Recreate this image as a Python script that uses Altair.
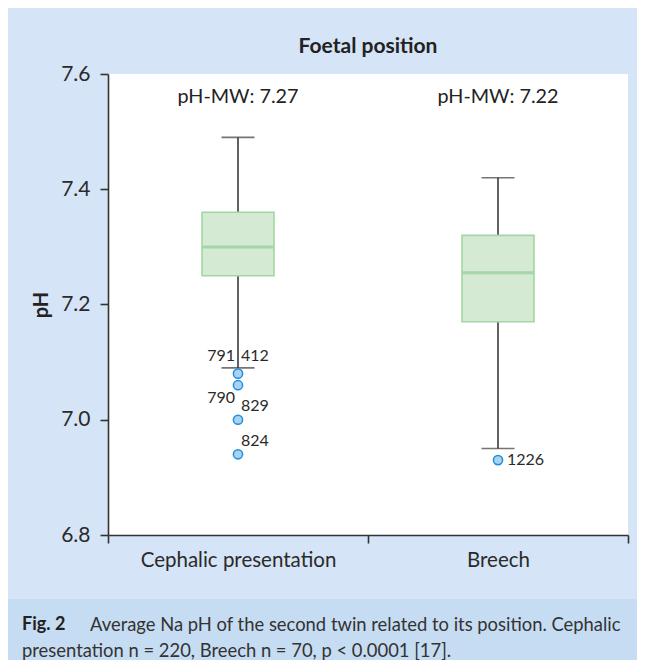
import altair as alt
import pandas as pd

FONT = "Lato"

categories = ["Cephalic presentation", "Breech"]
whisker_low = [7.09, 6.95]
q1 = [7.25, 7.17]
median = [7.30, 7.255]
q3 = [7.36, 7.32]
whisker_high = [7.49, 7.42]
mean_labels = ["pH-MW: 7.27", "pH-MW: 7.22"]

outlier_cat = ["Cephalic presentation"] * 4 + ["Breech"]
outlier_ph = [7.08, 7.06, 7.00, 6.94, 6.93]

label_text = ["791", "412", "790", "829", "824", "1226"]
label_cat = ["Cephalic presentation"] * 5 + ["Breech"]
label_ph = [7.11, 7.11, 7.037, 7.024, 6.963, 6.93]
label_group = ["right", "left", "right", "left", "left", "far"]

caption_bold = "Fig. 2"
caption_line1 = "Average Na pH of the second twin related to its position. Cephalic"
caption_line2 = "presentation n = 220, Breech n = 70, p < 0.0001 [17]."

boxes = pd.DataFrame({
    "cat": categories, "lo": whisker_low, "q1": q1, "med": median,
    "q3": q3, "hi": whisker_high, "mean": mean_labels,
})
outliers = pd.DataFrame({"cat": outlier_cat, "ph": outlier_ph})
labels = pd.DataFrame({"cat": label_cat, "ph": label_ph, "text": label_text, "grp": label_group})
one = pd.DataFrame({"a": [0]})

xenc = alt.X("cat:N", sort=categories, title=None,
             scale=alt.Scale(paddingInner=0, paddingOuter=0),
             axis=alt.Axis(labelAngle=0, tickBand="extent", labelFontSize=20.5,
                           labelPadding=7, labelColor="#2a2a2a", labelLimit=0))
yscale = alt.Scale(domain=[6.8, 7.6], nice=False, zero=False)
yaxis = alt.Axis(values=[6.8, 7.0, 7.2, 7.4, 7.6], format=".1f", title="pH",
                 titleFontSize=20, titleFontWeight="bold", titleColor="#222",
                 labelFontSize=21, labelColor="#2a2a2a", labelPadding=10, titlePadding=9,
                 grid=False)

base = alt.Chart(boxes)

whisk = base.mark_rule(color="#3a3a3a", strokeWidth=1.6).encode(
    x=xenc, y=alt.Y("lo:Q", scale=yscale, axis=yaxis), y2="hi:Q")
caps_hi = base.mark_tick(color="#3a3a3a", size=33, thickness=1.6).encode(
    x=alt.X("cat:N", sort=categories), y="hi:Q")
caps_lo = base.mark_tick(color="#3a3a3a", size=33, thickness=1.6).encode(
    x=alt.X("cat:N", sort=categories), y="lo:Q")
box = base.mark_bar(size=72, fill="#d4ead3", stroke="#a3d6a4", strokeWidth=1.6).encode(
    x=alt.X("cat:N", sort=categories), y="q1:Q", y2="q3:Q")
med = base.mark_tick(color="#93cc96", size=71, thickness=3).encode(
    x=alt.X("cat:N", sort=categories), y="med:Q")
mean_txt = base.mark_text(fontSize=19.8, font=FONT, color="#222").encode(
    x=alt.X("cat:N", sort=categories), y=alt.value(23), text="mean:N")

pts = alt.Chart(outliers).mark_point(filled=True, shape="circle", size=85,
                                     fill="#a8d1f2", stroke="#1f8fdc", strokeWidth=1.5,
                                     opacity=1).encode(
    x=alt.X("cat:N", sort=categories), y="ph:Q")

lab_base = alt.Chart(labels)
lab_r = lab_base.transform_filter(alt.datum.grp == "right").mark_text(
    align="right", dx=-3, fontSize=16, font=FONT, color="#2a2a2a").encode(
    x=alt.X("cat:N", sort=categories), y="ph:Q", text="text:N")
lab_l = lab_base.transform_filter(alt.datum.grp == "left").mark_text(
    align="left", dx=3, fontSize=16, font=FONT, color="#2a2a2a").encode(
    x=alt.X("cat:N", sort=categories), y="ph:Q", text="text:N")
lab_f = lab_base.transform_filter(alt.datum.grp == "far").mark_text(
    align="left", dx=9, fontSize=16, font=FONT, color="#2a2a2a").encode(
    x=alt.X("cat:N", sort=categories), y="ph:Q", text="text:N")

cap_rect = alt.Chart(one).mark_rect(color="#c6dcf2").encode(
    x=alt.value(-100), x2=alt.value(529), y=alt.value(525), y2=alt.value(586))
cap_b = alt.Chart(one).mark_text(align="left", baseline="middle", fontSize=18,
                                 fontWeight="bold", font=FONT, color="#222").encode(
    x=alt.value(-86), y=alt.value(551), text=alt.value(caption_bold))
cap_1 = alt.Chart(one).mark_text(align="left", baseline="middle", fontSize=18.4,
                                 font=FONT, color="#333").encode(
    x=alt.value(-18), y=alt.value(551), text=alt.value(caption_line1))
cap_2 = alt.Chart(one).mark_text(align="left", baseline="middle", fontSize=18.4,
                                 font=FONT, color="#333").encode(
    x=alt.value(-86), y=alt.value(577), text=alt.value(caption_line2))

chart = alt.layer(
    cap_rect, whisk, caps_hi, caps_lo, box, med, pts, lab_r, lab_l, lab_f,
    mean_txt, cap_b, cap_1, cap_2
).properties(
    width=520, height=461,
    title=alt.TitleParams("Foetal position", anchor="middle", fontSize=21,
                          fontWeight="bold", font=FONT, color="#222", offset=6),
    autosize=alt.AutoSizeParams(type="none"),
    padding={"left": 100, "top": 66, "right": 9, "bottom": 125},
    background="#d5e4f6",
).configure_view(
    fill="white", strokeWidth=0
).configure_axis(
    labelFont=FONT, titleFont=FONT, domainColor="#333", domainWidth=1.6,
    tickColor="#333", tickWidth=1.6, tickSize=8,
)

chart.save("out.html", embed_options={"renderer": "svg", "actions": False})
